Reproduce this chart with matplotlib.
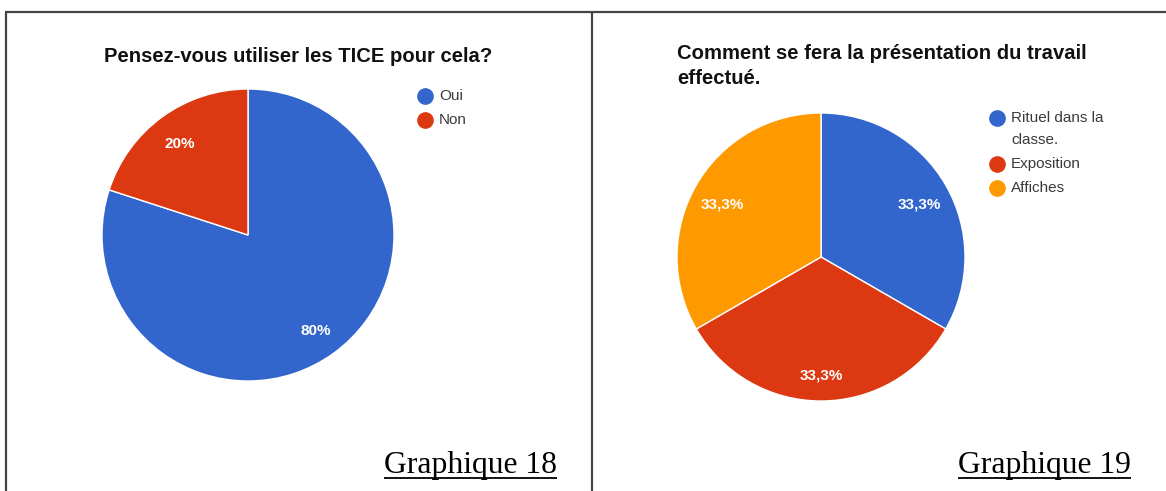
import matplotlib
matplotlib.use("Agg")
import matplotlib.pyplot as plt
import matplotlib.transforms as mtransforms

W, H = 1166, 491
DPI = 100

# ---------------- data ----------------
title1 = "Pensez-vous utiliser les TICE pour cela?"
cats1 = ["Oui", "Non"]
vals1 = [4, 1]
title2 = "Comment se fera la présentation du travail\neffectué."
cats2 = ["Rituel dans la\nclasse.", "Exposition", "Affiches"]
vals2 = [1, 1, 1]
caption1 = "Graphique 18"
caption2 = "Graphique 19"

colors = ["#3366CC", "#DC3912", "#FF9900"]

plt.rcParams['font.family'] = ['Liberation Sans', 'DejaVu Sans']

fig = plt.figure(figsize=(W / DPI, H / DPI), dpi=DPI)
bg = fig.add_axes([0, 0, 1, 1])
bg.set_xlim(0, W)
bg.set_ylim(H, 0)
bg.axis("off")

# frame lines
fc = "#444444"
bg.plot([5, W], [12, 12], color=fc, lw=1.6, solid_capstyle="butt")
bg.plot([5.5, 5.5], [12, H], color=fc, lw=1.6, solid_capstyle="butt")
bg.plot([591.5, 591.5], [12, H], color=fc, lw=1.6, solid_capstyle="butt")


def fmt_pct(p):
    s = f"{p:.1f}"
    if s.endswith(".0"):
        s = s[:-2]
    return s.replace(".", ",") + "%"


def draw_pie(cx, cy, r, vals, cols, pctdist, dy_pt):
    pad = 1.02
    ax = fig.add_axes([(cx - r * pad) / W, (H - cy - r * pad) / H,
                       2 * r * pad / W, 2 * r * pad / H])
    wedges, texts, autotexts = ax.pie(
        vals, colors=cols, startangle=90, counterclock=False,
        autopct=fmt_pct, pctdistance=pctdist,
        wedgeprops=dict(edgecolor="white", linewidth=1.0),
        textprops=dict(color="white", fontsize=11, fontweight="bold"))
    off = mtransforms.ScaledTranslation(0, -dy_pt / 72, fig.dpi_scale_trans)
    for t in autotexts:
        t.set_va("center")
        t.set_transform(t.get_transform() + off)
    ax.set_xlim(-pad, pad)
    ax.set_ylim(-pad, pad)
    ax.set_aspect("auto")
    ax.axis("off")
    return ax


draw_pie(248, 235, 146, vals1, colors[:2], 0.79, 2)
draw_pie(821, 257, 144, vals2, colors[:3], 0.79, 3.5)

# titles
bg.text(298, 56, title1, fontsize=14.6, fontweight="bold", ha="center",
        va="center", color="#111111")
bg.text(677, 44, title2, fontsize=14.6, fontweight="bold", ha="left",
        va="top", color="#111111", linespacing=1.42)


# legends
def draw_legend(x, y0, cats, cols):
    y = y0
    for c, col in zip(cats, cols):
        bg.plot([x], [y], marker="o", ms=11, color=col, mec=col)
        lines = c.split("\n")
        for j, ln in enumerate(lines):
            bg.text(x + 14, y + j * 22, ln, fontsize=11, ha="left",
                    va="center", color="#3a3a3a")
        y += 22 * (len(lines) - 1) + 24


draw_legend(425, 96, cats1, colors[:2])
draw_legend(997, 118, cats2, colors[:3])

# captions with underline
fig.canvas.draw()
rend = fig.canvas.get_renderer()
for txt, xr in [(caption1, 557), (caption2, 1131)]:
    t = bg.text(xr, 473, txt, fontsize=22.8, family="Liberation Serif",
                ha="right", va="baseline", color="black")
    bb = t.get_window_extent(renderer=rend)
    bg.plot([bb.x0, bb.x1], [478, 478], color="black", lw=1.3,
            solid_capstyle="butt")

fig.savefig("out.png", dpi=DPI)
